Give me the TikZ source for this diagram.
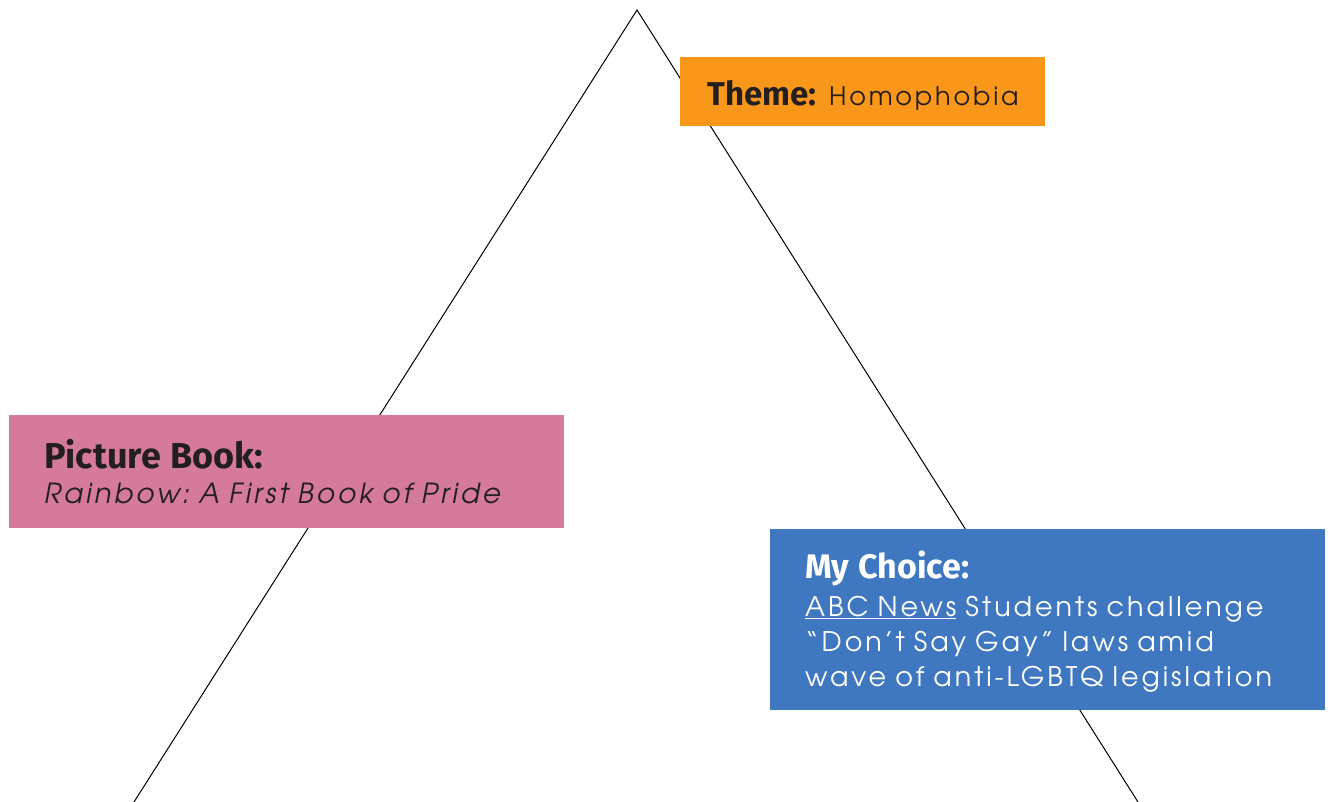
\documentclass[tikz,border=0pt]{standalone}
\usepackage{fontspec}
\setmainfont{texgyreadventor}[Extension=.otf,UprightFont=*-regular,ItalicFont=*-italic,BoldFont=*-bold,BoldItalicFont=*-bolditalic]
\newfontfamily\bodyfont{texgyreadventor}[Extension=.otf,UprightFont=*-regular,ItalicFont=*-italic,LetterSpace=11]
\newfontfamily\headfont{Fira Sans}
\usetikzlibrary{positioning}

\definecolor{themeorange}{HTML}{F9971A}
\definecolor{bookpink}{HTML}{D57A9D}
\definecolor{choiceblue}{HTML}{3F78C0}
\definecolor{inkdark}{HTML}{231F20}

% body text: spaced letters, normal word gaps
\newcommand\cardfont[2]{\bodyfont\fontsize{#1}{#2}\selectfont\frenchspacing
  \fontdimen2\font=0.3em\fontdimen3\font=0pt\fontdimen4\font=0pt}
\newcommand\cardhead[2]{{\headfont\bfseries\fontsize{#1}{#1}\selectfont #2}}

\tikzset{
  cardbox/.style={anchor=north west, inner ysep=0pt, align=left}
}

\begin{document}
\begin{tikzpicture}[x=1pt,y=-1pt]
  \useasboundingbox (0,0) rectangle (1328,802);

  % the triangle
  \coordinate (apex) at (637,10);
  \coordinate (baseL) at (134,802);
  \coordinate (baseR) at (1138,802);
  \draw[line width=1pt] (baseL) -- (apex) -- (baseR);

  \node[cardbox, fill=themeorange, text=inkdark, inner xsep=27pt, text width=311pt,
        text height=48pt, text depth=21pt, font=\cardfont{25.5}{35}] (theme) at (680,57)
    {\cardhead{33}{Theme:}\enskip Homophobia};

  \node[cardbox, fill=bookpink, text=inkdark, inner xsep=35pt, text width=485pt,
        text height=53pt, text depth=60pt, font=\cardfont{27.7}{35}] (book) at (9,415)
    {\cardhead{36}{Picture Book:}\\
     \itshape Rainbow: A First Book of Pride};

  \node[cardbox, fill=choiceblue, text=white, inner xsep=35pt, text width=485pt,
        text height=49pt, text depth=132pt, font=\cardfont{27}{35}] (choice) at (770,529)
    {\cardhead{34}{My Choice:}\\[3pt]
     \underline{ABC News} Students challenge\\
     “Don’t Say Gay” laws amid\\
     wave of anti-LGBTQ legislation};
\end{tikzpicture}
\end{document}
